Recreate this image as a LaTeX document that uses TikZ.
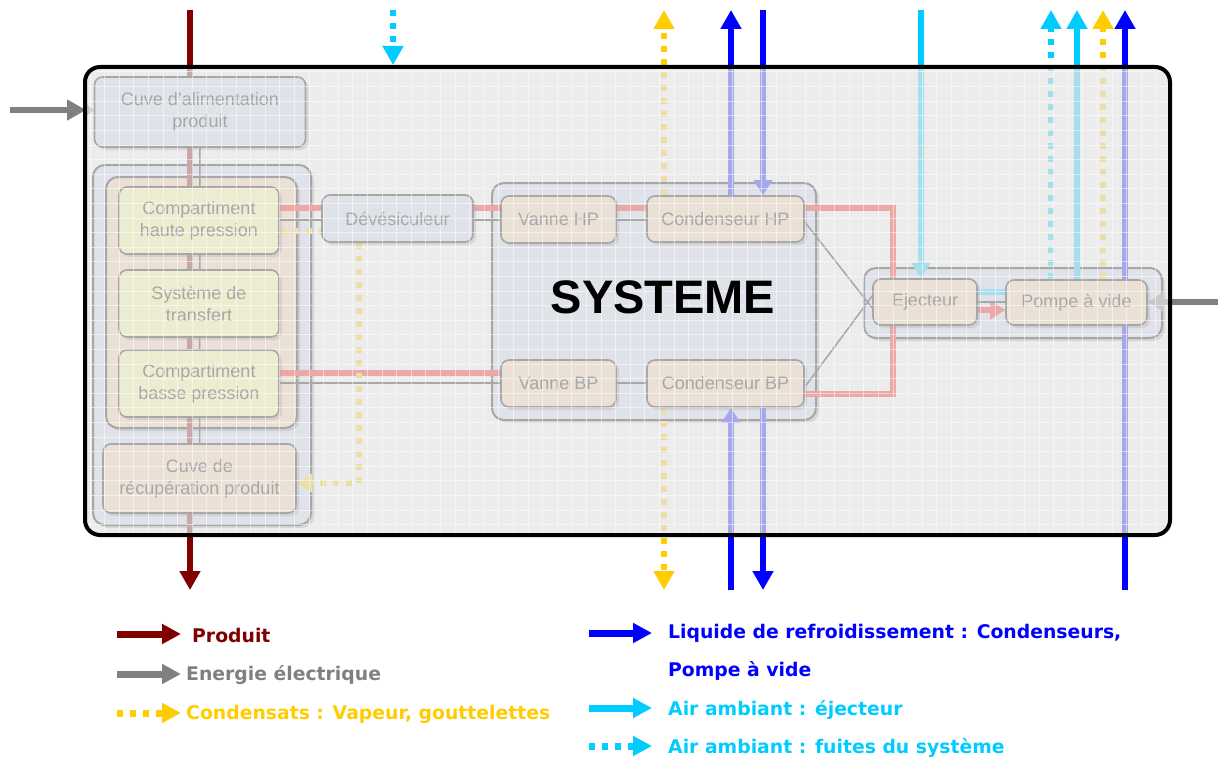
\documentclass[tikz,border=0pt]{standalone}
\usepackage{fontspec}
\setmainfont{DejaVu Sans}
\newfontfamily\boxfont{Liberation Sans}
\usetikzlibrary{arrows.meta,shadows}

\definecolor{prodred}{HTML}{800000}
\definecolor{elecgray}{HTML}{808080}
\definecolor{condyel}{HTML}{FFCC00}
\definecolor{coolblue}{HTML}{0000FF}
\definecolor{aircyan}{HTML}{00CCFF}
\definecolor{fillblue}{HTML}{CFDDF3}
\definecolor{fillorange}{HTML}{FDD3AE}
\definecolor{fillyellow}{HTML}{FFFF9C}
\definecolor{fadegray}{RGB}{229,229,229}

\pgfdeclarelayer{groups}
\pgfdeclarelayer{lines}
\pgfdeclarelayer{fade}
\pgfdeclarelayer{top}
\pgfsetlayers{groups,lines,main,fade,top}

\begin{document}
\begin{tikzpicture}[
  x=1pt, y=-1pt,
  blockbox/.style={draw=black, line width=1.6pt, rounded corners=8pt, fill=#1, align=center, inner sep=0pt,
    font=\boxfont\fontsize{18}{22}\selectfont,
    drop shadow={shadow xshift=3pt, shadow yshift=-3pt, fill=black, opacity=0.3}},
  grpbox/.style={draw=black, line width=2pt, rounded corners=12pt, fill=#1, inner sep=0pt,
    drop shadow={shadow xshift=3pt, shadow yshift=-3pt, fill=black, opacity=0.3}},
  flowline/.style={line width=6pt, #1},
  dotline/.style={dash pattern=on 6pt off 7pt},
  bigtip/.style={-{Triangle[length=19pt,width=20pt]}},
  smalltip/.style={-{Triangle[length=15pt,width=18pt]}},
  tinytip/.style={-{Triangle[length=7pt,width=11pt]}},
  thinlink/.style={line width=1.5pt, black},
  legline/.style={line width=7pt, #1, -{Triangle[length=19pt,width=19pt]}},
  legtext/.style={anchor=base west, inner sep=0pt, text=#1, font=\bfseries\fontsize{18.8}{22}\selectfont}
]
\useasboundingbox (0,0) rectangle (1218,760);

% === Rows and columns of the flows ===
\coordinate (yTop) at (0,10);
\coordinate (yBot) at (0,590);
\coordinate (boxN) at (0,65);
\coordinate (yHPr) at (0,208);   % pink, HP row
\coordinate (yHPg) at (0,220);   % grey, HP row
\coordinate (yHPd) at (0,222);
\coordinate (yHPc) at (0,231);   % condensate, HP row
\coordinate (yBPr) at (0,373);
\coordinate (yBPg) at (0,383);
\coordinate (yBPd) at (0,387);
\coordinate (yCBr) at (0,394);
\coordinate (yEjC) at (0,292);
\coordinate (yEjG) at (0,302);
\coordinate (yEjR) at (0,310);
\coordinate (yRec) at (0,483);
\coordinate (xDev) at (359,0);
\coordinate (xLk)  at (393,0);
\coordinate (xCy)  at (664,0);
\coordinate (xBu)  at (731,0);
\coordinate (xBd)  at (763,0);
\coordinate (xRed) at (893,0);
\coordinate (xEj)  at (921,0);
\coordinate (xPf)  at (1051,0);
\coordinate (xPc)  at (1077,0);
\coordinate (xPy)  at (1103,0);
\coordinate (xPb)  at (1125,0);

% === Blocks ===
\node[blockbox=fillblue, minimum width=211pt, minimum height=70pt] (cuveA) at (200,112) {Cuve d’alimentation\\produit};
\node[blockbox=fillyellow, minimum width=160pt, minimum height=67pt] (compHP) at (199,220.5) {Compartiment\\haute pression};
\node[blockbox=fillyellow, minimum width=160pt, minimum height=67pt] (transf) at (199,303.5) {Système de\\transfert};
\node[blockbox=fillyellow, minimum width=160pt, minimum height=67pt] (compBP) at (199,383.5) {Compartiment\\basse pression};
\node[blockbox=fillorange, minimum width=193pt, minimum height=69pt] (cuveR) at (199.5,478.5) {Cuve de\\récupération produit};
\node[blockbox=fillblue, minimum width=151pt, minimum height=47pt] (devesic) at (397.5,218.5) {Dévésiculeur};
\node[blockbox=fillorange, minimum width=115pt, minimum height=47pt] (vanHP) at (558.5,219.5) {Vanne HP};
\node[blockbox=fillorange, minimum width=157pt, minimum height=46pt] (condHP) at (725.5,219) {Condenseur HP};
\node[blockbox=fillorange, minimum width=115pt, minimum height=47pt] (vanBP) at (558.5,383.5) {Vanne BP};
\node[blockbox=fillorange, minimum width=157pt, minimum height=47pt] (condBP) at (725.5,383.5) {Condenseur BP};
\node[blockbox=fillorange, minimum width=104pt, minimum height=46pt] (eject) at (925,302) {Ejecteur};
\node[blockbox=fillorange, minimum width=141pt, minimum height=45pt] (pompe) at (1076.5,302.5) {Pompe à vide};

% === Groups ===
\begin{pgfonlayer}{groups}
\node[grpbox=fillblue, minimum width=218pt, minimum height=360pt] (grpL) at (202,345) {};
\node[grpbox=fillorange, minimum width=191pt, minimum height=251pt] (grpO) at (201.5,302.5) {};
\node[grpbox=fillblue, minimum width=324pt, minimum height=237pt] (grpSys) at (654,301.5) {};
\node[grpbox=fillblue, minimum width=298pt, minimum height=70pt] (grpEj) at (1013,303) {};
\end{pgfonlayer}

\begin{pgfonlayer}{lines}
% product
\coordinate (prodIn) at (190,10);
\coordinate (prodOut) at (190,590);
\draw[flowline=prodred, bigtip] (prodIn) -- (prodOut);
\draw[thinlink] (cuveA.south) -- (cuveR.north);

% electric energy
\coordinate (elecL) at (10,110);
\coordinate (boxW) at (86,110);
\coordinate (elecR) at (1218,302);
\draw[flowline=elecgray, bigtip] (elecL) -- (boxW);
\draw[flowline=elecgray, tinytip] (boxW) -- (cuveA.west |- boxW);
\draw[flowline=elecgray, smalltip] (elecR) -- (pompe.east |- elecR);

% pink process lines
\draw[flowline=red] (compHP.east |- yHPr) -- (devesic.west |- yHPr)
  (devesic.east |- yHPr) -- (vanHP.west |- yHPr)
  (vanHP.east |- yHPr) -- (condHP.west |- yHPr);
\draw[flowline=red] (condHP.east |- yHPr) -| (xRed |- eject.north);
\draw[flowline=red] (condBP.east |- yCBr) -| (xRed |- eject.south);
\draw[flowline=red] (compBP.east |- yBPr) -- (vanBP.west |- yBPr);
\draw[flowline=red, smalltip] (eject.east |- yEjR) -- (pompe.west |- yEjR);

% thin grey links
\draw[thinlink] (compHP.east |- yHPg) -- (devesic.west |- yHPg)
  (devesic.east |- yHPg) -- (vanHP.west |- yHPg)
  (vanHP.east |- yHPg) -- (condHP.west |- yHPg);
\draw[thinlink] (compBP.east |- yBPg) -- (vanBP.west |- yBPg)
  (vanBP.east |- yBPg) -- (condBP.west |- yBPg);
\draw[thinlink] (condHP.east |- yHPd) -- ([yshift=-6pt]eject.west);
\draw[thinlink] (condBP.east |- yBPd) -- ([yshift=6pt]eject.west);
\draw[thinlink] (eject.east |- yEjG) -- (pompe.west |- yEjG);

% condensates
\draw[flowline=condyel, dotline] (compHP.east |- yHPc) -- (devesic.west |- yHPc);
\draw[flowline=condyel, dotline, smalltip] (devesic.south -| xDev) |- (cuveR.east |- yRec);
\draw[flowline=condyel, dotline, bigtip] (condHP.north -| xCy) -- (xCy |- yTop);
\draw[flowline=condyel, dotline, bigtip] (condBP.south -| xCy) -- (xCy |- yBot);
\draw[flowline=condyel, dotline, bigtip] (pompe.north -| xPy) -- (xPy |- yTop);

% cooling liquid
\draw[flowline=coolblue, bigtip] (condHP.north -| xBu) -- (xBu |- yTop);
\draw[flowline=coolblue, smalltip] (xBd |- yTop) -- (condHP.north -| xBd);
\draw[flowline=coolblue, smalltip] (xBu |- yBot) -- (condBP.south -| xBu);
\draw[flowline=coolblue, bigtip] (condBP.south -| xBd) -- (xBd |- yBot);
\draw[flowline=coolblue, bigtip] (xPb |- yBot) -- (xPb |- yTop);

% ambient air
\draw[flowline=aircyan, smalltip] (xEj |- yTop) -- (eject.north -| xEj);
\draw[flowline=aircyan] (eject.east |- yEjC) -- (pompe.west |- yEjC);
\draw[flowline=aircyan, bigtip] (pompe.north -| xPc) -- (xPc |- yTop);
\draw[flowline=aircyan, dotline, bigtip] (pompe.north -| xPf) -- (xPf |- yTop);
\draw[flowline=aircyan, dotline, bigtip] (xLk |- yTop) -- (xLk |- boxN);
\end{pgfonlayer}

% === Faded veil with grid ===
\begin{pgfonlayer}{fade}
\fill[fadegray, opacity=0.73, rounded corners=15pt] (85,67) rectangle (1170,535);
\begin{scope}
  \clip[rounded corners=15pt] (85,67) rectangle (1170,535);
  \foreach \gx in {90,104.6,...,1170} \draw[white, opacity=0.5, line width=1pt] (\gx,67) -- (\gx,535);
  \foreach \gy in {72,86.6,...,535} \draw[white, opacity=0.5, line width=1pt] (85,\gy) -- (1170,\gy);
\end{scope}
\end{pgfonlayer}

\begin{pgfonlayer}{top}
\draw[line width=4pt, rounded corners=15pt] (85,67) rectangle (1170,535);
\node[font=\boxfont\bfseries\fontsize{47}{50}\selectfont] (sysT) at (663,297) {SYSTEME};

% === Legend ===
\node[legtext=prodred] (lgProd) at (192,642) {Produit};
\node[legtext=elecgray] (lgElec) at (186,680) {Energie électrique};
\node[legtext=condyel] (lgCond) at (186,719) {Condensats : Vapeur, gouttelettes};
\node[legtext=coolblue] (lgCool) at (668,638) {Liquide de refroidissement : Condenseurs,};
\node[legtext=coolblue] (lgCool2) at (668,676) {Pompe à vide};
\node[legtext=aircyan] (lgAir) at (668,715) {Air ambiant : éjecteur};
\node[legtext=aircyan] (lgLeak) at (668,753) {Air ambiant : fuites du système};

\draw[legline=prodred] ([xshift=-75pt, yshift=8pt]lgProd.base west) -- ([xshift=-11pt, yshift=8pt]lgProd.base west);
\draw[legline=elecgray] ([xshift=-69pt, yshift=6pt]lgElec.base west) -- ([xshift=-5pt, yshift=6pt]lgElec.base west);
\draw[legline=condyel, dotline] ([xshift=-69pt, yshift=6pt]lgCond.base west) -- ([xshift=-5pt, yshift=6pt]lgCond.base west);
\draw[legline=coolblue] ([xshift=-79pt, yshift=5pt]lgCool.base west) -- ([xshift=-16pt, yshift=5pt]lgCool.base west);
\draw[legline=aircyan] ([xshift=-79pt, yshift=7pt]lgAir.base west) -- ([xshift=-16pt, yshift=7pt]lgAir.base west);
\draw[legline=aircyan, dotline] ([xshift=-79pt, yshift=7pt]lgLeak.base west) -- ([xshift=-16pt, yshift=7pt]lgLeak.base west);
\end{pgfonlayer}

\end{tikzpicture}
\end{document}
